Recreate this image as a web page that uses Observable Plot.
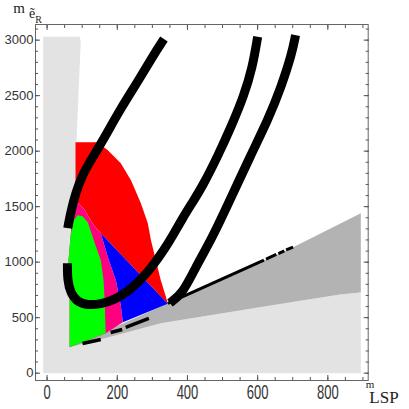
<!DOCTYPE html>
<html><head><meta charset="utf-8">
<script src="https://cdn.jsdelivr.net/npm/d3@7"></script>
<script src="https://cdn.jsdelivr.net/npm/@observablehq/plot@0.6"></script>
<style>body{margin:0;background:#fff;}</style>
</head><body><div id="chart"></div>
<script>
// tick values
const xTicks = [0, 200, 400, 600, 800];
const yTicks = [0, 500, 1000, 1500, 2000, 2500, 3000];
const xMinor = [0,50,100,150,200,250,300,350,400,450,500,550,600,650,700,750,800,850,900];
const yMinor = [0,100,200,300,400,500,600,700,800,900,1000,1100,1200,1300,1400,1500,1600,1700,1800,1900,2000,2100,2200,2300,2400,2500,2600,2700,2800,2900,3000,3100];

// regions [mLSP, m_eR]
const lightGray = [[-11,0],[-11,3030],[93,3030],[96,2990],[92,2700],[88,2400],[84,2100],[81,1750],[75,1500],[66,1300],[62,1000],[63,600],[64,234],[181,327],[324,450],[610,597],[839,712],[880,722],[894,728],[894,0]];
const darkGray = [[64,234],[344,628],[618,1018],[701,1135],[894,1441],[894,728],[880,722],[839,712],[610,597],[324,450],[181,327]];
const red = [[81,2081],[144,2081],[173,2009],[210,1892],[239,1739],[267,1532],[287,1351],[296,1198],[310,1018],[324,838],[339,685],[344,625],[153,1261],[133,1333],[104,1486],[87,1532],[81,1523]];
const pink = [[64,234],[64,838],[61,1018],[67,1243],[70,1380],[76,1505],[87,1532],[104,1486],[133,1333],[153,1261],[176,1018],[196,838],[210,613],[216,459],[167,360]];
const blue = [[153,1261],[344,625],[216,459],[210,613],[196,838],[176,1018]];
const green = [[64,234],[64,838],[61,1018],[67,1243],[76,1378],[87,1423],[101,1414],[116,1360],[133,1198],[153,1018],[161,838],[164,658],[167,360]];

// thick black contours
const uUpper = [[333,3010],[300,2850],[263,2650],[210,2385],[169,2153],[131,1949],[102,1799],[81,1619],[69,1468],[61,1348],[59,1306]];
const uLower = [[58,991],[58,838],[67,721],[86,642],[115,613],[153,622],[190,658],[229,733],[265,835],[296,946],[333,1108],[360,1250],[385,1390],[413,1532],[444,1690],[487,1960],[524,2216],[561,2500],[585,2750],[600,3030]];
const rightCurve = [[350,632],[386,718],[419,928],[472,1228],[517,1532],[583,1982],[629,2279],[667,2577],[698,2883],[708,3045]];

// thin black edge and dashes [x1,y1,x2,y2]
const edgeSegments = [[344,628,618,1018],[624,1028,653,1070],[659,1078,676,1102],[681,1110,701,1135]];
const lowerDashes = [[101,268,153,304],[181,366,214,393],[224,412,290,493]];

const X = d => d[0], Y = d => d[1];
const poly = (data, fill) => Plot.line(data, {x: X, y: Y, fill, stroke: "none", curve: "linear-closed"});
const thick = (data) => Plot.line(data, {x: X, y: Y, stroke: "black", strokeWidth: 9, strokeLinecap: "butt", curve: "basis"});
const segs = (data, w) => Plot.link(data, {x1: d => d[0], y1: d => d[1], x2: d => d[2], y2: d => d[3], stroke: "black", strokeWidth: w, strokeLinecap: "butt"});
const axisCol = "#555";
const tk = (anchor, ticks, len) => {
  const o = {anchor, tickSize: -len, fill: "none", stroke: axisCol, label: null};
  return (anchor === "bottom" || anchor === "top") ? Plot.axisX(ticks, o) : Plot.axisY(ticks, o);
};

const plot = Plot.plot({
  width: 409, height: 409,
  marginLeft: 35, marginRight: 41.3, marginTop: 24, marginBottom: 29,
  x: {domain: [-33, 915]},
  y: {domain: [-66, 3141]},
  style: {fontFamily: "'Liberation Sans', sans-serif", background: "white"},
  marks: [
    poly(lightGray, "#e3e3e3"),
    poly(darkGray, "#b3b3b3"),
    poly(red, "#ff0000"),
    poly(pink, "#ff0080"),
    poly(blue, "#0000ff"),
    poly(green, "#00ff00"),
    segs(edgeSegments, 3),
    segs(lowerDashes, 3.5),
    thick(uUpper),
    thick(uLower),
    thick(rightCurve),
    Plot.frame({stroke: "#666"}),
    tk("bottom", xTicks, 5), tk("bottom", xMinor, 3),
    tk("top", xTicks, 5), tk("top", xMinor, 3),
    tk("left", yTicks, 5), tk("left", yMinor, 3),
    tk("right", yTicks, 5), tk("right", yMinor, 3),
    Plot.axisX(xTicks, {anchor: "bottom", tickSize: 0, tickPadding: 5, fontSize: 13, fill: "#333", label: null, tickFormat: d => String(d)}),
    Plot.axisY(yTicks, {anchor: "left", tickSize: 0, tickPadding: 2, fontSize: 13, fill: "#333", label: null, tickFormat: d => String(d)})
  ]
});
document.getElementById("chart").appendChild(plot);

// stretch x tick labels vertically like the original
d3.select(plot).selectAll('g[aria-label="x-axis tick label"] text').each(function() {
  const t = this.getAttribute("transform") || "";
  this.setAttribute("transform", t + " scale(1,1.5)");
});

const svg = d3.select(plot);
const yl = svg.append("text").attr("font-family", "'Liberation Serif', serif").attr("fill", "#222");
yl.append("tspan").attr("x", 19).attr("y", 12.5).attr("font-size", 15).text("m");
yl.append("tspan").attr("x", 32).attr("y", 18).attr("font-size", 14).text("ẽ");
yl.append("tspan").attr("x", 38.5).attr("y", 22.5).attr("font-size", 10).text("R");
svg.append("text").attr("font-family", "'Liberation Serif', serif").attr("fill", "#222")
  .attr("x", 370).attr("y", 388).attr("font-size", 11).text("m");
svg.append("text").attr("font-family", "'Liberation Serif', serif").attr("fill", "#222")
  .attr("x", 384).attr("y", 403).attr("font-size", 17).text("LSP");
</script>
</body></html>
